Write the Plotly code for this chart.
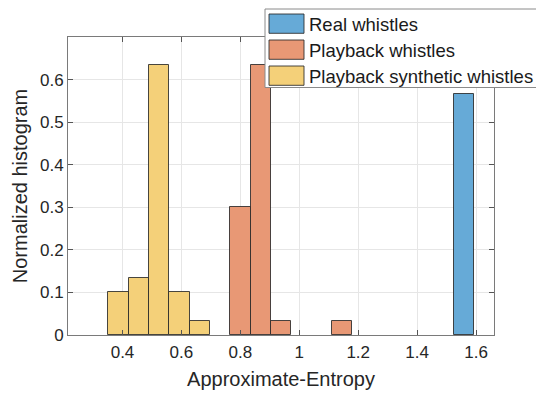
import plotly.graph_objects as go

# ---- data ----
bin_start = 0.352
bin_width = 0.069
series_names = ["Real whistles", "Playback whistles", "Playback synthetic whistles"]
real_bins = [17]
real_vals = [0.5667]
playback_bins = [6, 7, 8, 11]
playback_vals = [0.3, 0.6333, 0.0333, 0.0333]
synth_bins = [0, 1, 2, 3, 4]
synth_vals = [0.1, 0.1333, 0.6333, 0.1, 0.0333]
x_ticks = [0.4, 0.6, 0.8, 1.0, 1.2, 1.4, 1.6]
x_tick_labels = ["0.4", "0.6", "0.8", "1", "1.2", "1.4", "1.6"]
y_ticks = [0, 0.1, 0.2, 0.3, 0.4, 0.5, 0.6]
y_tick_labels = ["0", "0.1", "0.2", "0.3", "0.4", "0.5", "0.6"]
colors = ["#66AAD7", "#E89875", "#F4D079"]

FONT = "Liberation Sans, Arial, sans-serif"
W, H = 536, 393
ML, MR, MT, MB = 68, 42, 37, 58
PW, PH = W - ML - MR, H - MT - MB

fig = go.Figure()
for name, bins, vals, col in [
    (series_names[0], real_bins, real_vals, colors[0]),
    (series_names[1], playback_bins, playback_vals, colors[1]),
    (series_names[2], synth_bins, synth_vals, colors[2]),
]:
    centers = [bin_start + (b + 0.5) * bin_width for b in bins]
    fig.add_trace(go.Bar(
        x=centers, y=vals, width=[bin_width] * len(bins), name=name,
        marker=dict(color=col, line=dict(color="rgba(40,40,40,0.85)", width=1)),
        showlegend=False,
    ))

fig.update_layout(
    width=W, height=H,
    margin=dict(l=ML, r=MR, t=MT, b=MB, autoexpand=False),
    paper_bgcolor="white", plot_bgcolor="white",
    font=dict(family=FONT, color="#262626", size=17),
    barmode="overlay", bargap=0,
    xaxis=dict(
        range=[0.215, 1.661], tickvals=x_ticks, ticktext=x_tick_labels,
        ticks="inside", ticklen=5, tickcolor="#555555",
        showline=True, linecolor="#7a7a7a", linewidth=1, mirror="ticks",
        showgrid=True, gridcolor="#e6e6e6", gridwidth=1, zeroline=False,
        tickfont=dict(size=17, color="#262626"), ticklabelstandoff=2,
        title=dict(text="Approximate-Entropy", font=dict(size=20, color="#262626"), standoff=10),
    ),
    yaxis=dict(
        range=[0, 0.7], tickvals=y_ticks, ticktext=y_tick_labels,
        ticks="inside", ticklen=5, tickcolor="#555555",
        showline=True, linecolor="#7a7a7a", linewidth=1, mirror="ticks",
        showgrid=True, gridcolor="#e6e6e6", gridwidth=1, zeroline=False,
        tickfont=dict(size=17, color="#262626"),
        title=dict(text="Normalized histogram", font=dict(size=20, color="#262626"), standoff=6),
    ),
)

# ---- custom legend (MATLAB style, clipped at right edge) ----
def px2x(px):
    return (px - ML) / PW

def py2y(py):
    return (H - MB - py) / PH

fig.add_shape(type="rect", xref="paper", yref="paper",
              x0=px2x(265), x1=px2x(560), y0=py2y(87.5), y1=py2y(9),
              fillcolor="white", line=dict(color="#8a8a8a", width=1), layer="above")
row_tops = [14, 40, 66]
for name, col, top in zip(series_names, colors, row_tops):
    fig.add_shape(type="rect", xref="paper", yref="paper",
                  x0=px2x(269), x1=px2x(304), y0=py2y(top + 19.3), y1=py2y(top),
                  fillcolor=col, line=dict(color="rgba(40,40,40,0.85)", width=1), layer="above")
    fig.add_annotation(xref="paper", yref="paper", x=px2x(307), y=py2y(top + 10),
                       text=name, showarrow=False, xanchor="left", yanchor="middle",
                       font=dict(size=18.5, color="#1a1a1a", family=FONT))

fig.write_html("out.html")
